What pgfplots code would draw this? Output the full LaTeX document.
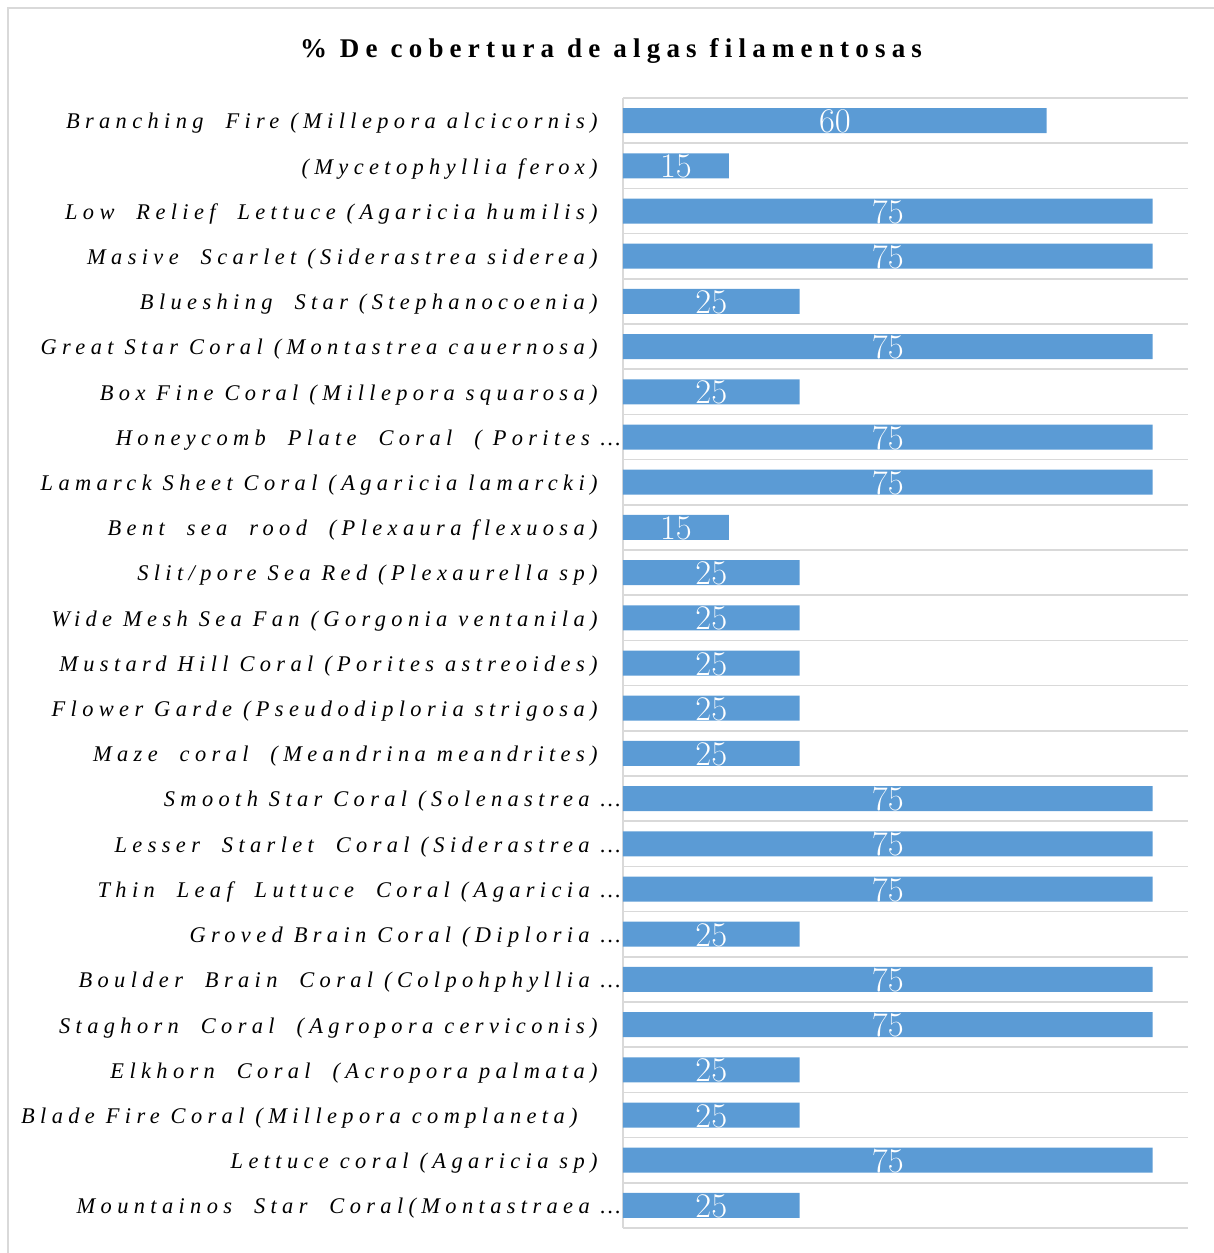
\documentclass[border=0pt]{standalone}
\usepackage{pgfplots}
\pgfplotsset{compat=1.18}
\usepackage{pgfplotstable}
\usepackage{fontspec}
\setmainfont{Liberation Serif}
\newfontfamily\labfont[LetterSpace=24]{Liberation Serif}
\newfontfamily\titfont[LetterSpace=23]{Liberation Serif}
\definecolor{barblue}{HTML}{5B9BD5}
\definecolor{gridgray}{HTML}{D9D9D9}
\pgfplotstableread{
y v
0 60
1 15
2 75
3 75
4 25
5 75
6 25
7 75
8 75
9 15
10 25
11 25
12 25
13 25
14 25
15 75
16 75
17 75
18 25
19 75
20 75
21 25
22 25
23 75
24 25
}\data
\newcommand{\tr}{\kern11.5pt}
\begin{document}
\begin{tikzpicture}
\useasboundingbox (0,0) rectangle (607pt,626.5pt);
\draw[gridgray, line width=0.8pt] (4pt,-10pt) rectangle (620pt,622.5pt);
\node[font=\titfont\bfseries\fontsize{13.5}{15}\selectfont] at (305.5pt,601pt) {\% De cobertura de algas filamentosas};
\begin{axis}[
  at={(311.5pt,12.5pt)}, anchor=south west,
  scale only axis, width=282.5pt, height=565pt,
  xmin=0, xmax=80, ymin=-0.5, ymax=24.5, y dir=reverse,
  axis line style={draw=none},
  xtick=\empty,
  extra x ticks={0}, extra x tick labels={},
  extra x tick style={xmajorgrids=true, major grid style={gridgray, line width=0.8pt}},
  ytick={0,...,24},
  minor ytick={-0.5,0.5,...,24.5},
  yminorgrids=true, ymajorgrids=false,
  minor grid style={gridgray, line width=0.8pt},
  major tick length=0pt, minor tick length=0pt,
  yticklabel style={font=\labfont\itshape\fontsize{11.2}{13}\selectfont, anchor=east, inner sep=0pt, xshift=-1pt, yshift=-1.5pt},
  yticklabels={
    {Branching~ Fire (Millepora alcicornis)\tr},
    {(Mycetophyllia ferox)\tr},
    {Low~ Relief~ Lettuce (Agaricia humilis)\tr},
    {Masive~ Scarlet (Siderastrea siderea)\tr},
    {Blueshing~ Star (Stephanocoenia)\tr},
    {Great Star Coral (Montastrea cauernosa)\tr},
    {Box Fine Coral (Millepora squarosa)\tr},
    {Honeycomb~ Plate~ Coral~ ( Porites …},
    {Lamarck Sheet Coral (Agaricia lamarcki)\tr},
    {Bent~ sea~ rood~ (Plexaura flexuosa)\tr},
    {Slit/pore Sea Red (Plexaurella sp)\tr},
    {Wide Mesh Sea Fan (Gorgonia ventanila)\tr},
    {Mustard Hill Coral (Porites astreoides)\tr},
    {Flower Garde (Pseudodiploria strigosa)\tr},
    {Maze~ coral~ (Meandrina meandrites)\tr},
    {Smooth Star Coral (Solenastrea …},
    {Lesser~ Starlet~ Coral (Siderastrea …},
    {Thin~ Leaf~ Luttuce~ Coral (Agaricia …},
    {Groved Brain Coral (Diploria …},
    {Boulder~ Brain~ Coral (Colpohphyllia …},
    {Staghorn~ Coral~ (Agropora cerviconis)\tr},
    {Elkhorn~ Coral~ (Acropora palmata)\tr},
    {Blade Fire Coral (Millepora complaneta)\tr\kern10pt},
    {Lettuce coral (Agaricia sp)\tr},
    {Mountainos~ Star~ Coral(Montastraea …}
  },
]
\addplot[xbar, bar width=12.5pt, bar shift=0pt, fill=barblue, draw=none] table[x=v, y=y]{\data};
\addplot[draw=none, nodes near coords, point meta=explicit,
  every node near coord/.style={anchor=center, font=\fontsize{16.5}{18}\selectfont, text=white, yshift=-0.5pt}]
  table[x expr=\thisrow{v}/2, y=y, meta=v]{\data};
\end{axis}
\end{tikzpicture}
\end{document}
